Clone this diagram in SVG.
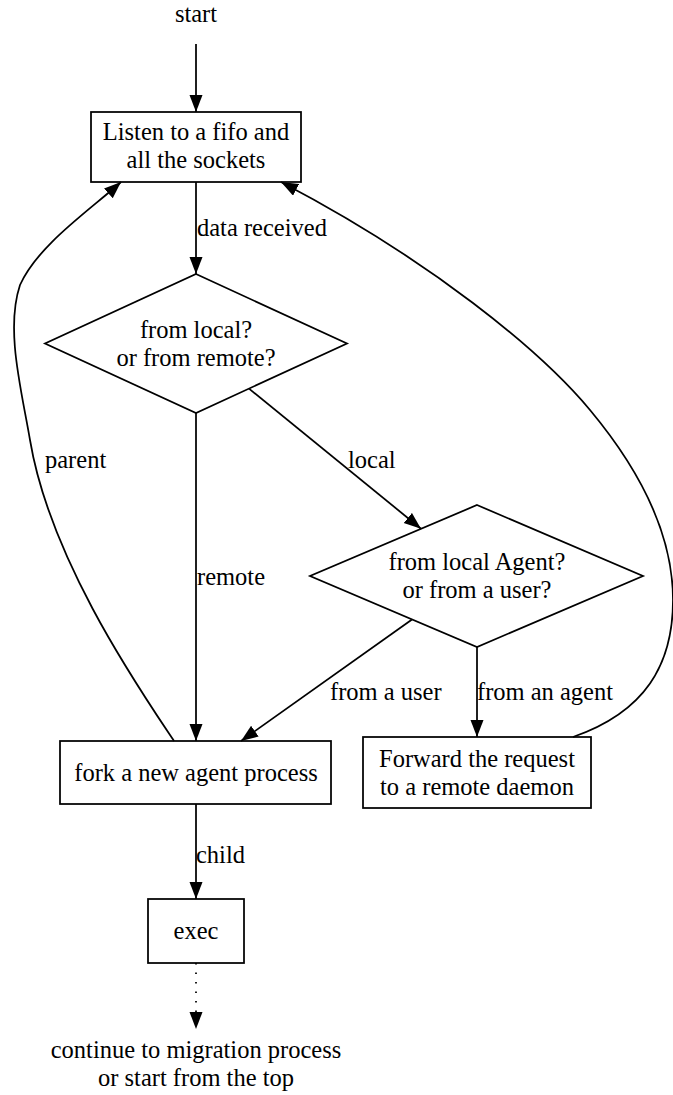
<svg xmlns="http://www.w3.org/2000/svg" width="673" height="1095" viewBox="0 0 673 1095" font-family="'Liberation Serif', 'DejaVu Serif', serif" font-size="24.5">
  <style>
    text { font-family: 'Liberation Serif', 'DejaVu Serif', serif; font-size: 24.5px; fill: #000; }
    .c { text-anchor: middle; }
    .shape { fill: none; stroke: #000; stroke-width: 1.75; }
    .edge { fill: none; stroke: #000; stroke-width: 1.75; }
    .arrow { marker-end: url(#head); }
    .dotted { stroke-dasharray: 1.5 8; }
  </style>
  <defs>
    <marker id="head" markerUnits="userSpaceOnUse" markerWidth="18" markerHeight="14" refX="17" refY="6.5" orient="auto">
      <path d="M0,0 L17,6.5 L0,13 Z" fill="#000"/>
    </marker>
  </defs>

  <!-- connectors -->
  <g id="edges">
    <path class="edge arrow" d="M196,44 L196,112"/>
    <path class="edge arrow" d="M196,182 L196,274"/>
    <text x="197" y="236">data received</text>
    <path class="edge arrow" d="M196,413 L196,741"/>
    <text x="197" y="585">remote</text>
    <path class="edge arrow" d="M249,388.6 L421,528.7"/>
    <text x="348" y="468">local</text>
    <path class="edge arrow" d="M412,619.5 L241,741"/>
    <text x="330" y="700">from a user</text>
    <path class="edge arrow" d="M477,647 L477,737"/>
    <text x="477" y="700">from an agent</text>
    <path class="edge arrow" d="M174,741 C140,690 50,560 30,440 C22,392 5,330 20,285 C38,245 90,210 121,182"/>
    <text x="45" y="468">parent</text>
    <path class="edge arrow" d="M573,737 C645,712 673,665 673,600 C673,535 640,470 590,410 C540,350 430,260 281,182"/>
    <path class="edge arrow" d="M196,804 L196,899"/>
    <text x="196" y="863">child</text>
    <path class="edge dotted arrow" d="M196,963 L196,1029"/>
  </g>

  <g id="start">
    <text class="c" x="196" y="22">start</text>
  </g>

  <g id="listen">
    <rect class="shape" x="91" y="112" width="210" height="70"/>
    <text class="c" x="196" y="140">Listen to a fifo and</text>
    <text class="c" x="196" y="168">all the sockets</text>
  </g>

  <g id="origin">
    <polygon class="shape" points="196,274 347,343.5 196,413 45,343.5"/>
    <text class="c" x="196" y="338">from local?</text>
    <text class="c" x="196" y="366">or from remote?</text>
  </g>

  <g id="sender">
    <polygon class="shape" points="477,505 643,576 477,647 310,576"/>
    <text class="c" x="477" y="570">from local Agent?</text>
    <text class="c" x="477" y="598">or from a user?</text>
  </g>

  <g id="fork">
    <rect class="shape" x="60" y="741" width="271" height="63"/>
    <text class="c" x="196" y="781">fork a new agent process</text>
  </g>

  <g id="forward">
    <rect class="shape" x="363" y="737" width="228" height="71"/>
    <text class="c" x="477" y="766.5">Forward the request</text>
    <text class="c" x="477" y="795">to a remote daemon</text>
  </g>

  <g id="exec">
    <rect class="shape" x="148" y="899" width="96" height="64"/>
    <text class="c" x="196" y="939">exec</text>
  </g>

  <g id="continue">
    <text class="c" x="196" y="1058">continue to migration process</text>
    <text class="c" x="196" y="1086">or start from the top</text>
  </g>
</svg>
